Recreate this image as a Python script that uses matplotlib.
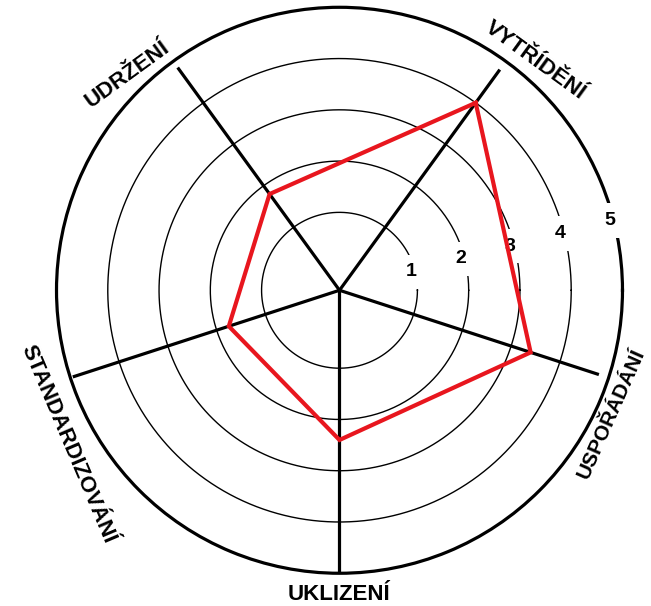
import numpy as np
import matplotlib
matplotlib.use("Agg")
import matplotlib.pyplot as plt

# hodnoty 5S hodnocení
categories = ['VYTŘÍDĚNÍ', 'USPOŘÁDÁNÍ', 'UKLIZENÍ', 'STANDARDIZOVÁNÍ', 'UDRŽENÍ']
values = [4.0, 3.4, 2.4, 1.75, 1.8]
ring_levels = [1, 2, 3, 4, 5]
ring_labels = ['1', '2', '3', '4', '5']

plt.rcParams['font.family'] = ['Liberation Sans', 'DejaVu Sans']

r_min = -0.52
r_max = 5

# osy: první nahoře vpravo, dál po směru hodin po 72 stupních
angles = np.deg2rad([54 - 72 * i for i in range(len(categories))])

fig = plt.figure(figsize=(6.51, 6.06), dpi=100)
ax = fig.add_axes([0.0868, 0.054, 0.8694, 0.934], projection='polar')
ax.set_ylim(r_min, r_max)
ax.set_xticks([])
ax.set_yticks([])
ax.grid(False)
ax.spines['polar'].set_linewidth(2.3)
ax.spines['polar'].set_color('black')
ax.spines['polar'].set_zorder(2.5)

# soustředné kruhy
t = np.linspace(0, 2 * np.pi, 400)
for lvl in ring_levels[:-1]:
    ax.plot(t, np.full_like(t, lvl), color='black', lw=1.0, zorder=1)

# paprsky
spoke_len = [4.8, 4.8, 5.0, 4.95, 4.85]
for a, l in zip(angles, spoke_len):
    ax.plot([a, a], [r_min, l], color='black', lw=2.3, zorder=2,
            solid_capstyle='butt')

# popisky úrovní (přerušují kruhy)
for lvl, lab in zip(ring_levels, ring_labels):
    ax.text(np.deg2rad(14.5), lvl - 0.08, lab, ha='center', va='center',
            fontsize=14, fontweight='bold', zorder=4,
            bbox=dict(boxstyle='square,pad=0.45', fc='white', ec='none'))

# červený polygon
ax.plot(np.append(angles, angles[0]), values + values[:1],
        color='#e8161e', lw=3.0, zorder=5, solid_joinstyle='miter')

# názvy os
label_pos = [(49.6, 5.36, -36), (-24.5, 5.3, 66), (270, 5.42, 0),
             (209.5, 5.57, -67), (134.5, 5.39, 36)]
for name, (ang, r, rot) in zip(categories, label_pos):
    fs = 15 if name == 'USPOŘÁDÁNÍ' else 16
    ax.text(np.deg2rad(ang), r, name, ha='center', va='center',
            rotation=rot, rotation_mode='anchor', fontsize=fs,
            fontweight='bold', clip_on=False, zorder=6)

plt.savefig('out.png', dpi=100)
